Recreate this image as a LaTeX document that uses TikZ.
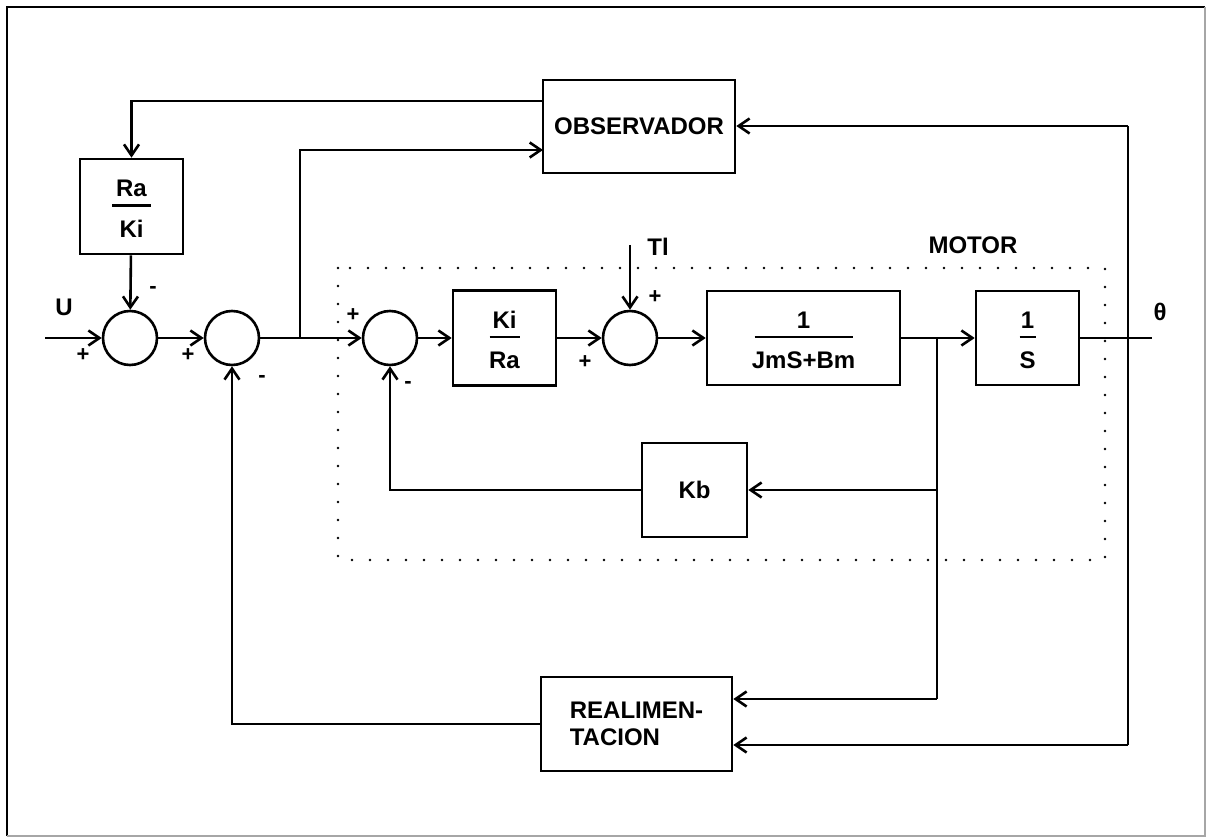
\documentclass[tikz,border=0pt]{standalone}
\usepackage{fontspec}
\setmainfont{Liberation Sans}
\usetikzlibrary{arrows.meta,positioning}

\newcommand{\blockfrac}[3]{\begin{tabular}{@{}c@{}}\rule{0pt}{15pt}#1\\[-9.5pt]\rule{#3}{1.2pt}\\[1pt]#2\end{tabular}}

\tikzset{
  block/.style={draw, line width=1.3pt, minimum width=51.5pt, minimum height=47pt,
    inner sep=0pt, font=\bfseries\fontsize{12}{14.4}\selectfont},
  sumnode/.style={draw, circle, line width=1.3pt, minimum size=27pt, inner sep=0pt},
  sign/.style={font=\bfseries\fontsize{11}{12}\selectfont, inner sep=0pt},
  lbl/.style={font=\bfseries\fontsize{12}{14}\selectfont, inner sep=0pt},
}

\begin{document}
\begin{tikzpicture}[x=0.5pt, y=-0.5pt, line width=1.3pt,
    >={Straight Barb[length=5.5pt,width=7.5pt]}]

    \useasboundingbox (0,0) rectangle (1208,839);

    % Frame
    \draw[line width=1.3pt] (7,836) -- (7,7) -- (1205,7);
    \draw[line width=0.6pt, black!35] (1205,7) -- (1205,836) -- (7,836);

    % Motor
    \draw[line width=1.4pt, dash pattern=on 0pt off 9pt, line cap=round]
        (338,268) rectangle (1105,560);
    \node[lbl] (motor) at (973,245) {MOTOR};

    % Summing junctions
    \node[sumnode] (s1) at (130,338) {};
    \node[sumnode] (s2) at (232,338) {};
    \node[sumnode] (s3) at (390,338) {};
    \node[sumnode] (s4) at (630,338) {};

    % Blocks
    \node[block, minimum height=47.5pt] (raki) at (131.5,206.5) {\blockfrac{Ra}{Ki}{19.5pt}};
    \node[block, minimum width=96pt, minimum height=46.5pt] (obs) at (639,126.5) {OBSERVADOR};
    \node[block, minimum height=47.5pt] (kira) at (504.5,338) {\blockfrac{Ki}{Ra}{15pt}};
    \node[block, minimum width=96.5pt] (jm) at (803.5,338) {\blockfrac{1}{JmS+Bm}{49pt}};
    \node[block] (integ) at (1027.5,338) {\blockfrac{1}{S}{8pt}};
    \node[block, minimum width=52.5pt] (kb) at (694.5,490) {Kb};
    \node[block, minimum width=95.5pt, align=left,
        font=\bfseries\fontsize{12}{13.5}\selectfont] (real) at (636.5,724) {REALIMEN-\\TACION};

    % Signals
    \node[lbl] (u) at (64,307) {U};
    \node[lbl] (tl) at (658,247) {Tl};
    \node[lbl] (theta) at (1160,312) {θ};

    % Signs
    \node[sign] (p1) at (83,355) {+};
    \node[sign] (m1) at (153,290) {-};
    \node[sign] (p2) at (188,355) {+};
    \node[sign] (m2) at (262,379) {-};
    \node[sign] (p3) at (353,315) {+};
    \node[sign] (m3) at (408,385) {-};
    \node[sign] (p4) at (585,362) {+};
    \node[sign] (p5) at (655,297) {+};

    % Points on the lines
    \coordinate (in) at (45,338);
    \coordinate (j1) at (300,338);
    \coordinate (j2) at (937,338);
    \coordinate (out) at (1152,338);
    \coordinate (tltop) at (630,245);
    \coordinate (o1) at (543,101);
    \coordinate (o2) at (543,150);
    \coordinate (kbin) at (937,490);
    \coordinate (rin) at (937,699);
    \coordinate (rtop) at (1128,126);
    \coordinate (rbot) at (1128,745);

    % Forward path
    \draw[->] (in) -- (s1);
    \draw[->] (s1) -- (s2);
    \draw[->] (s2) -- (s3);
    \draw[->] (s3) -- (kira);
    \draw[->] (kira) -- (s4);
    \draw[->] (tltop) -- (s4);
    \draw[->] (s4) -- (jm);
    \draw[->] (jm) -- (integ);
    \draw (integ) -- (out);

    % Observer
    \draw[->] (j1) |- (o2);
    \draw[->] (o1) -| (raki.north);
    \draw[->] (raki) -- (s1);
    \draw (rtop) -- (rbot);
    \draw[->] (rtop) -- (obs.east |- rtop);

    % Feedback
    \draw (j2) -- (rin);
    \draw[->] (kbin) -- (kb);
    \draw[->] (kb) -| (s3);
    \draw[->] (rin) -- (real.east |- rin);
    \draw[->] (rbot) -- (real.east |- rbot);
    \draw[->] (real) -| (s2);

\end{tikzpicture}
\end{document}
